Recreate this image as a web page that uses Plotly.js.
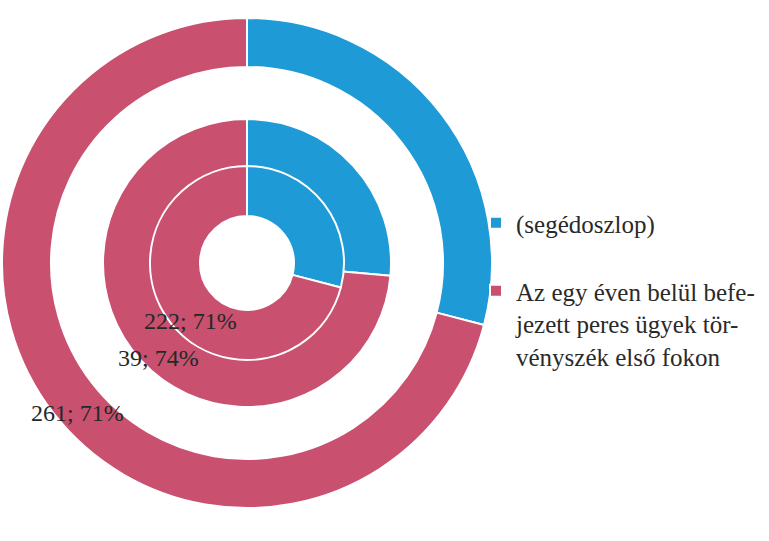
<!DOCTYPE html>
<html>
<head>
<meta charset="utf-8">
<script src="https://cdn.plot.ly/plotly-3.0.1.min.js"></script>
<style>html,body{margin:0;padding:0;background:#fff;}#chart{width:769px;height:541px;}</style>
</head>
<body>
<div id="chart"></div>
<script>
// Data
const categories = ["(segédoszlop)<br> ", "Az egy éven belül befe-<br>jezett peres ügyek tör-<br>vényszék első fokon"];
const outerValues = [107, 261];   // outer ring
const middleValues = [14, 39];    // middle ring
const innerValues = [91, 222];    // inner ring
const colors = ["#1e9ad6", "#c9506f"];

const W = 769, H = 541;
const cx = 247, cy = 263;
function dom(R) {
  return {x: [(cx - R) / W, (cx + R) / W], y: [(H - cy - R) / H, (H - cy + R) / H]};
}
function ring(values, Rout, Rin, showlegend) {
  return {
    type: "pie", labels: categories, values: values, sort: false,
    direction: "clockwise", rotation: 0, hole: Rin / Rout,
    domain: dom(Rout), textinfo: "none", hoverinfo: "label+value+percent",
    marker: {colors: colors, line: {color: "#ffffff", width: 2}},
    showlegend: showlegend
  };
}
const data = [
  ring(outerValues, 245, 196, true),
  ring(middleValues, 144, 96, false),
  ring(innerValues, 97, 47, false)
];
function lbl(vals) {
  const tot = vals[0] + vals[1];
  return vals[1] + "; " + Math.round(vals[1] / tot * 100) + "%";
}
const serif = "'Times New Roman', 'Liberation Serif', 'DejaVu Serif', serif";
const labelFont = {family: serif, size: 24, color: "#1f2a27"};
const annotations = [
  {text: lbl(innerValues), px: 190, py: 321},
  {text: lbl(middleValues), px: 158, py: 358},
  {text: lbl(outerValues), px: 77, py: 413}
].map(a => ({text: a.text, x: a.px / W, y: 1 - a.py / H, xref: "paper", yref: "paper",
  showarrow: false, font: labelFont, xanchor: "center", yanchor: "middle"}));

const layout = {
  width: W, height: H,
  margin: {l: 0, r: 0, t: 0, b: 0},
  paper_bgcolor: "#ffffff",
  font: {family: serif, color: "#2a2a2a"},
  showlegend: true,
  legend: {x: 476 / W, y: 1 - 200 / H, xanchor: "left", yanchor: "top", valign: "top",
    font: {family: serif, size: 25, color: "#2a2a2a"},
    bgcolor: "rgba(0,0,0,0)", itemwidth: 30, tracegroupgap: 0},
  annotations: annotations
};
Plotly.newPlot("chart", data, layout, {displayModeBar: false, staticPlot: true});
</script>
</body>
</html>
